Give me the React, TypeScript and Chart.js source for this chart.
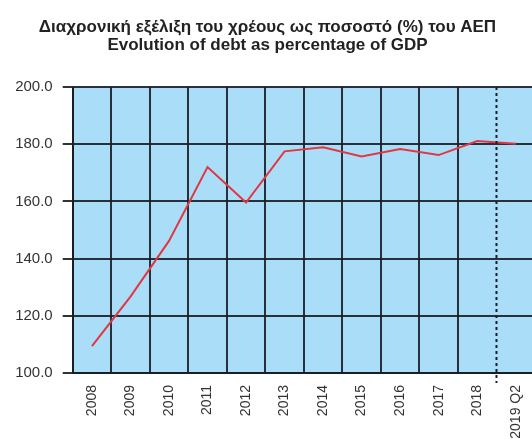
import React, { useEffect, useRef } from "react";
import { Chart, registerables } from "chart.js";

Chart.register(...registerables);

const titleLines = [
  "Διαχρονική εξέλιξη του χρέους ως ποσοστό (%) του ΑΕΠ",
  "Evolution of debt as percentage of GDP",
];
const categories = ["2008", "2009", "2010", "2011", "2012", "2013", "2014", "2015", "2016", "2017", "2018", "2019 Q2"];
const debtValues = [109.4, 126.7, 146.2, 172.0, 159.6, 177.5, 178.9, 175.7, 178.3, 176.2, 181.1, 180.2];
const yMin = 100;
const yMax = 200;
const yStep = 20;

const GRID = "rgba(25,30,35,0.9)";

export default function App() {
  const ref = useRef<HTMLCanvasElement | null>(null);

  useEffect(() => {
    if (!ref.current) return;
    const bgPlugin = {
      id: "bgPlot",
      beforeDraw(chart: any) {
        const { ctx, chartArea } = chart;
        ctx.save();
        ctx.fillStyle = "#AADEF8";
        ctx.fillRect(chartArea.left, chartArea.top, chartArea.right - chartArea.left, chartArea.bottom - chartArea.top);
        ctx.restore();
      },
      afterDraw(chart: any) {
        const { ctx, chartArea } = chart;
        const xs = chart.scales.x;
        const n = categories.length;
        const x = (xs.getPixelForValue(n - 2) + xs.getPixelForValue(n - 1)) / 2;
        ctx.save();
        ctx.strokeStyle = "#1b1f22";
        ctx.lineWidth = 2;
        ctx.setLineDash([3, 3]);
        ctx.beginPath();
        ctx.moveTo(x, chartArea.top);
        ctx.lineTo(x, chartArea.bottom + 10);
        ctx.stroke();
        ctx.restore();
      },
    };

    const chart = new Chart(ref.current, {
      type: "line",
      data: {
        labels: categories,
        datasets: [
          {
            data: debtValues,
            borderColor: "#E23642",
            borderWidth: 2,
            pointRadius: 0,
            tension: 0,
            fill: false,
          },
        ],
      },
      options: {
        responsive: false,
        animation: false,
        layout: { padding: { left: 0, right: 12, top: 0, bottom: 0 } },
        plugins: {
          legend: { display: false },
          tooltip: { enabled: false },
          title: {
            display: true,
            text: titleLines,
            color: "#222",
            font: { family: "Liberation Sans", size: 17, weight: "bold", lineHeight: 18 / 17 },
            padding: { top: 10, bottom: 33 },
          },
        },
        scales: {
          x: {
            type: "category",
            offset: true,
            grid: {
              offset: true,
              drawTicks: false,
              lineWidth: 2,
              color: (ctx: any) => (ctx.index === categories.length - 1 ? "rgba(0,0,0,0)" : GRID),
            },
            border: { display: true, color: GRID, width: 2 },
            ticks: {
              autoSkip: false,
              maxRotation: 90,
              minRotation: 90,
              padding: 12,
              color: "#333",
              font: { family: "Liberation Sans", size: 14 },
            },
            afterFit: (s: any) => {
              s.height = 95;
            },
          },
          y: {
            min: yMin,
            max: yMax,
            grid: { lineWidth: 2, color: GRID, tickLength: 10, drawTicks: true },
            border: { display: true, color: GRID, width: 2 },
            ticks: {
              stepSize: yStep,
              padding: 10,
              color: "#333",
              font: { family: "Liberation Sans", size: 15 },
              callback: (v: any) => Number(v).toFixed(1),
            },
            afterFit: (s: any) => {
              s.width = 72.7;
            },
          },
        },
      },
      plugins: [bgPlugin],
    });
    return () => chart.destroy();
  }, []);

  return (
    <div style={{ position: "fixed", left: 0, top: 8, width: 532, height: 431, overflow: "hidden" }}>
      <canvas ref={ref} width={547} height={460} style={{ display: "block" }} />
    </div>
  );
}
